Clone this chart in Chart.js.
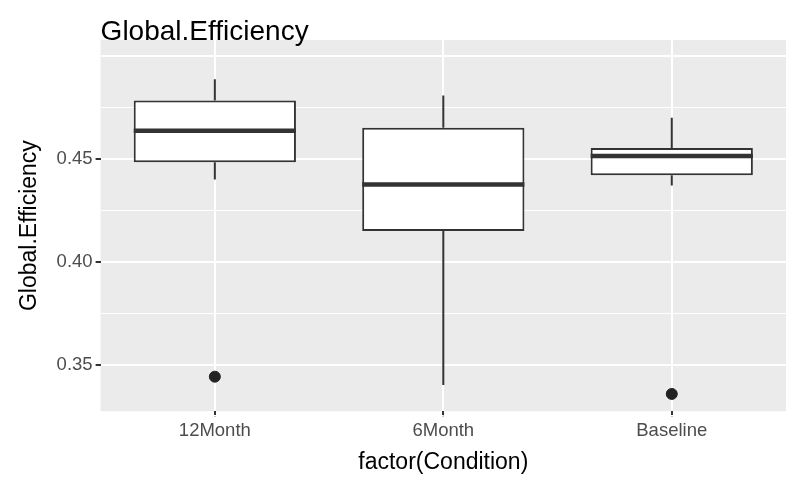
<!DOCTYPE html>
<html>
<head>
<script src="https://cdn.jsdelivr.net/npm/chart.js@4"></script>
<style>
  body { margin: 0; background: #fff; }
  #wrap { width: 800px; height: 494px; }
</style>
</head>
<body>
<div id="wrap"><canvas id="myChart"></canvas></div>
<script>
const categories = ["12Month", "6Month", "Baseline"];
const whiskerLow = [0.4401, 0.3401, 0.4372];
const q1 = [0.4485, 0.4150, 0.4421];
const median = [0.4638, 0.4377, 0.4515];
const q3 = [0.4786, 0.4653, 0.4554];
const whiskerHigh = [0.4889, 0.4810, 0.4702];
const outliers = [0.3441, null, 0.3357];

const panelBg = {
  id: "panelBg",
  beforeDraw(chart) {
    const { ctx, chartArea: a } = chart;
    ctx.save();
    ctx.fillStyle = "#ebebeb";
    ctx.fillRect(a.left, a.top, a.right - a.left, a.bottom - a.top);
    ctx.restore();
  },
  afterDraw(chart) {
    const { ctx, chartArea: a } = chart;
    ctx.save();
    ctx.fillStyle = "#000";
    ctx.font = "28px 'Liberation Sans', Arial, sans-serif";
    ctx.textBaseline = "alphabetic";
    ctx.fillText("Global.Efficiency", a.left, 40);
    ctx.restore();
  }
};

const boxLines = {
  id: "boxLines",
  beforeDatasetsDraw(chart) {
    const { ctx, scales: { x, y } } = chart;
    ctx.save();
    ctx.strokeStyle = "#333";
    ctx.lineWidth = 2;
    categories.forEach((c, i) => {
      const px = x.getPixelForValue(i);
      ctx.beginPath();
      ctx.moveTo(px, y.getPixelForValue(whiskerLow[i]));
      ctx.lineTo(px, y.getPixelForValue(q1[i]));
      ctx.moveTo(px, y.getPixelForValue(q3[i]));
      ctx.lineTo(px, y.getPixelForValue(whiskerHigh[i]));
      ctx.stroke();
    });
    ctx.restore();
  },
  afterDatasetsDraw(chart) {
    const { ctx, scales: { y } } = chart;
    const meta = chart.getDatasetMeta(0);
    ctx.save();
    ctx.strokeStyle = "#333";
    ctx.lineWidth = 4.5;
    meta.data.forEach((bar, i) => {
      const half = bar.width / 2;
      const py = y.getPixelForValue(median[i]);
      ctx.beginPath();
      ctx.moveTo(bar.x - half, py);
      ctx.lineTo(bar.x + half, py);
      ctx.stroke();
    });
    ctx.restore();
  }
};

const font = "'Liberation Sans', Arial";
const ctx = document.getElementById("myChart").getContext("2d");
const myChart = new Chart(ctx, {
  type: "bar",
  data: {
    labels: categories,
    datasets: [
      {
        type: "bar",
        data: categories.map((c, i) => [q1[i], q3[i]]),
        backgroundColor: "#ffffff",
        borderColor: "#333",
        borderWidth: 2,
        borderSkipped: false,
        barPercentage: 0.71,
        categoryPercentage: 1,
        order: 2,
      },
      {
        type: "line",
        data: outliers,
        showLine: false,
        pointRadius: 5.5,
        pointBackgroundColor: "#222",
        pointBorderColor: "#222",
        order: 1,
      },
    ],
  },
  options: {
    responsive: true,
    maintainAspectRatio: false,
    animation: false,
    layout: { padding: { top: 40, right: 14, left: 12, bottom: 14 } },
    plugins: { legend: { display: false }, tooltip: { enabled: false } },
    scales: {
      x: {
        offset: true,
        grid: { offset: false, color: "#fff", lineWidth: 2, drawTicks: true, tickLength: 5, tickColor: "#333" },
        border: { display: false },
        ticks: { color: "#4d4d4d", font: { size: 18.5, family: font }, padding: 4 },
        title: { display: true, text: "factor(Condition)", color: "#000", font: { size: 23, family: font }, padding: { top: 2 } },
      },
      y: {
        min: 0.3273,
        max: 0.508,
        afterBuildTicks(axis) {
          axis.ticks = [0.325, 0.35, 0.375, 0.4, 0.425, 0.45, 0.475, 0.5].map(v => ({ value: v }));
        },
        grid: {
          color: "#fff",
          lineWidth: c => (Math.round(c.tick.value * 1000) % 50 === 0 ? 2 : 1),
          tickColor: c => (Math.round(c.tick.value * 1000) % 50 === 0 && c.tick.value < 0.5 ? "#333" : "rgba(0,0,0,0)"),
          tickLength: 5,
        },
        border: { display: false },
        ticks: {
          color: "#4d4d4d",
          font: { size: 18.5, family: font },
          callback: v => (Math.round(v * 1000) % 50 === 0 && v < 0.5 ? v.toFixed(2) : ""),
        },
        title: { display: true, text: "Global.Efficiency", color: "#000", font: { size: 23, family: font }, padding: { bottom: 10 } },
      },
    },
  },
  plugins: [panelBg, boxLines],
});
</script>
</body>
</html>
